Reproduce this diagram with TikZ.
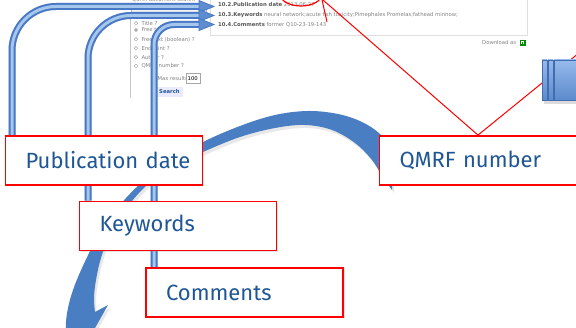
\documentclass[tikz,border=0pt]{standalone}
\usepackage{fontspec}
\setmainfont{Fira Sans}
\newfontfamily\uifont{DejaVu Sans}
\usetikzlibrary{calc,shadows}
\definecolor{lbl}{RGB}{31,86,150}
\definecolor{boxred}{RGB}{255,0,0}
\definecolor{pipeblue}{RGB}{72,120,198}
\definecolor{pipelight}{RGB}{165,199,236}
\definecolor{bigblue}{RGB}{74,126,194}
\definecolor{uigray}{RGB}{130,130,130}
\definecolor{uidark}{RGB}{85,85,85}
\definecolor{tabtop}{RGB}{150,186,236}
\definecolor{tabbot}{RGB}{92,138,204}
\definecolor{tabedge}{RGB}{66,108,176}
\pgfdeclarelayer{bottom}
\pgfdeclarelayer{background}
\pgfsetlayers{bottom,background,main}
\begin{document}
\begin{tikzpicture}[x=1pt,y=-1pt,
  calloutbox/.style={draw=boxred, line width=1.8pt, fill=white, minimum height=49pt,
    text width=157pt, inner xsep=20pt, inner ysep=0pt, align=left,
    font=\fontsize{22}{26}\selectfont, text=lbl,
    drop shadow={shadow xshift=1.5pt, shadow yshift=-1.5pt, opacity=.2}},
  uitext/.style={anchor=base west, inner sep=0pt, font=\uifont\fontsize{5.3}{6}\selectfont, text=uigray},
  pipeshadow/.style={draw=black!14, line width=7pt, shift={(1.5,2)}},
  pipeouter/.style={draw=pipeblue, line width=7pt},
  pipeinner/.style={draw=pipelight, line width=3pt},
  headstyle/.style={fill=pipeblue!75!pipelight, draw=pipeblue, line width=.8pt, line join=miter},
  radio/.style={draw=gray!70, fill=white, line width=.4pt},
  callline/.style={draw=boxred, line width=1pt}
]
\useasboundingbox (0,0) rectangle (576,328);
\clip (0,0) rectangle (576,328);

% ---------- callout boxes ----------
\node[calloutbox] (pd) at (104,160.5) {\mbox{Publication date}};
\node[calloutbox] (kw) at (178,226) {\mbox{Keywords}};
\node[calloutbox] (cm) at (244.5,292.5) {\mbox{Comments}};
\node[calloutbox] (qm) at (478,160.5) {\mbox{QMRF number}};

% ---------- screenshot (bottom layer) ----------
\begin{pgfonlayer}{bottom}
  \fill[white] (0,0) rectangle (576,328);
  \node[uitext] (qsar) at (132,1.5) {QSAR document search};
  \draw[gray!55, line width=.5pt, fill=gray!8] (131,8) rectangle (206,14);
  \draw[gray!45, line width=.6pt] (130,14) -- (130,98);
  \draw[radio] (136,23.3) circle (1.8);
  \node[uitext] (f1) at (141.3,25.3) {Title ?};
  \draw[radio] (136,30) circle (1.8);
  \fill[gray!80!black] (136,30) circle (0.9);
  \node[uitext] (f2) at (141.3,32) {Free text};
  \draw[radio] (136,39.3) circle (1.8);
  \node[uitext] (f3) at (141.3,41.3) {Freetext (boolean) ?};
  \draw[radio] (136,48.3) circle (1.8);
  \node[uitext] (f4) at (141.3,50.3) {Endpoint ?};
  \draw[radio] (136,57.3) circle (1.8);
  \node[uitext] (f5) at (141.3,59.3) {Author ?};
  \draw[radio] (136,66) circle (1.8);
  \node[uitext] (f6) at (141.3,68) {QMRF number ?};
  \node[uitext] (mx) at (157.3,80.3) {Max results};
  \draw[gray!70, line width=.5pt, fill=white] (186.3,73.5) rectangle (200.5,83.5);
  \node[uitext, text=black] (mxv) at (187.5,80.5) {100};
  \fill[blue!8!white] (156,87) rectangle (183,97);
  \node[uitext, text=lbl, font=\uifont\bfseries\fontsize{5.3}{6}\selectfont] (srch) at (159,93.5) {Search};
  % result panel
  \draw[gray!25, line width=.6pt, fill=white] (210,-5) rectangle (527,35);
  \node[uitext] (r2) at (218,7) {\textcolor{uidark}{\bfseries 10.2.Publication date} 2013-06-27};
  \node[uitext] (r3) at (218,17) {\textcolor{uidark}{\bfseries 10.3.Keywords} neural network;acute fish toxicity;Pimephales Promelas;fathead minnow;};
  \node[uitext] (r4) at (218,26.5) {\textcolor{uidark}{\bfseries 10.4.Comments} former Q10-23-19-143};
  \node[uitext] (dl) at (482,45) {Download as};
  \fill[green!55!black] (519.5,40) rectangle (525.5,46);
  \fill[white] (521,41.5) rectangle (524,44.5);
  \fill[green!60!black] (521.8,42.2) rectangle (523.2,43.8);
\end{pgfonlayer}

% ---------- arrows, pipes and lines (background layer) ----------
\begin{pgfonlayer}{background}
  % big curved arrow
  \fill[black!9, shift={(2,3)}]
    plot[smooth, tension=.6] coordinates {(392,150) (380,134) (362,122) (338,114) (308,111) (275,115) (240,126) (203,142) (170,161) (140,184) (115,211) (96,240) (82,268) (73,290) (68,308) (66,322) (66,332)}
    -- (52,334) -- (82,354) -- (95,328) -- (108,305) -- (95,312)
    -- plot[smooth, tension=.6] coordinates {(95,312) (94,298) (96,280) (101,258) (110,235) (125,210) (146,186) (172,167) (203,152) (240,137) (275,128) (305,125) (332,130) (355,143) (372,160) (382,176) (392,190)}
    -- cycle;
  \fill[bigblue]
    plot[smooth, tension=.6] coordinates {(392,150) (380,134) (362,122) (338,114) (308,111) (275,115) (240,126) (203,142) (170,161) (140,184) (115,211) (96,240) (82,268) (73,290) (68,308) (66,322) (66,332)}
    -- (52,334) -- (82,354) -- (95,328) -- (108,305) -- (95,312)
    -- plot[smooth, tension=.6] coordinates {(95,312) (94,298) (96,280) (101,258) (110,235) (125,210) (146,186) (172,167) (203,152) (240,137) (275,128) (305,125) (332,130) (355,143) (372,160) (382,176) (392,190)}
    -- cycle;

  % pipe arrows
  \coordinate (x1) at (12,0);
  \coordinate (x2) at (88,0);
  \coordinate (x3) at (154,0);
  \coordinate (e1) at (200,6.5);
  \coordinate (e2) at (200,15.5);
  \coordinate (e3) at (200,24.5);
  \coordinate (h1) at (214,6.5);
  \coordinate (h2) at (214,15.5);
  \coordinate (h3) at (214,24.5);
  \foreach \st in {pipeshadow,pipeouter,pipeinner}{
    \draw[\st, rounded corners=44pt] (pd.north -| x1) |- (e1);
    \draw[\st, rounded corners=43pt] (kw.north -| x2) |- (e2);
    \draw[\st, rounded corners=20pt] (cm.north -| x3) |- (e3);
  }
  \foreach \h in {h1,h2,h3}{
    \filldraw[headstyle] (\h) -- ++(-15,-6) -- ++(0,12) -- cycle;
  }

  % red callout lines
  \draw[callline, line width=1.2pt] (301,-6) ellipse [x radius=21, y radius=12];
  \coordinate (ra) at (320.7,-2);
  \coordinate (rb) at (590,44);
  \coordinate (sa) at (321.4,-3);
  \coordinate (sb) at (327,22);
  \draw[callline] (qm.north) -- (ra);
  \draw[callline] (qm.north) -- (rb);
  \draw[callline] (sa) -- (sb);

  % blue tab shape at the right
  \fill[black!14] (544,63) rectangle (590,104);
  \draw[draw=tabedge, line width=.6pt, top color=tabtop, bottom color=tabbot] (542,60) rectangle (547,100);
  \draw[draw=tabedge, line width=.6pt, top color=tabtop, bottom color=tabbot] (548,60) rectangle (553,100);
  \draw[draw=tabedge, line width=.6pt, top color=tabtop, bottom color=tabbot] (554,60) rectangle (590,100);
\end{pgfonlayer}
\end{tikzpicture}
\end{document}
